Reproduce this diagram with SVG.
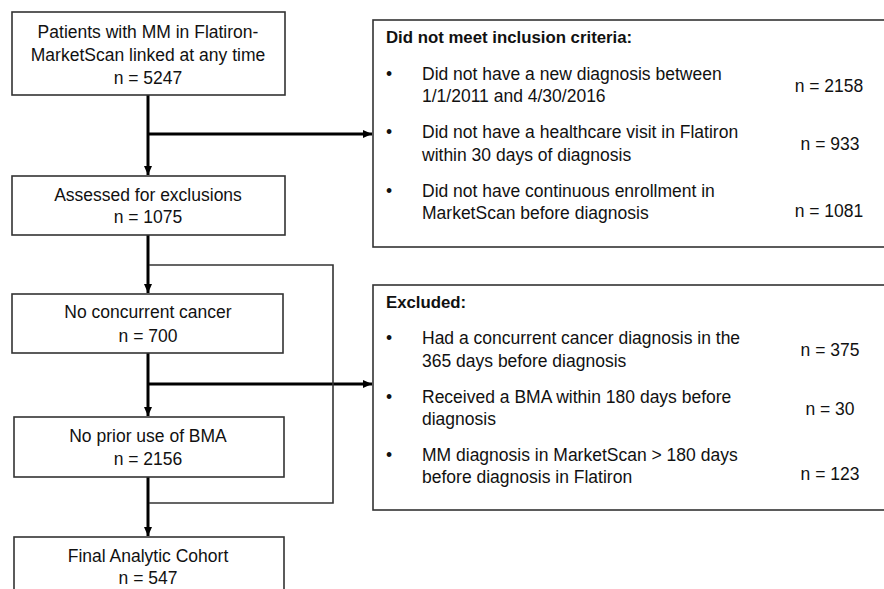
<svg xmlns="http://www.w3.org/2000/svg" width="884" height="589" viewBox="0 0 884 589">
<defs>
<style>
.box{fill:#fff;stroke:#333;stroke-width:1.6}
.t{font-family:"Liberation Sans",Arial,sans-serif;font-size:17.5px;fill:#111}
.c{text-anchor:middle}
.b{font-weight:bold;font-size:16.8px}
.thick{fill:none;stroke:#000;stroke-width:3}
.thin{fill:none;stroke:#333;stroke-width:1.6}
</style>
<marker id="ah" markerUnits="userSpaceOnUse" markerWidth="10" markerHeight="10" refX="9" refY="5" orient="auto">
<path d="M0,1 L9,5 L0,9 Z" fill="#000"/>
</marker>
</defs>
<rect width="884" height="589" fill="#fff"/>
<g id="connectors">
<line class="thick" x1="148" y1="95" x2="148" y2="175" marker-end="url(#ah)"/>
<line class="thick" x1="148" y1="134" x2="372" y2="134" marker-end="url(#ah)"/>
<line class="thick" x1="148" y1="235" x2="148" y2="293" marker-end="url(#ah)"/>
<line class="thick" x1="148" y1="353" x2="148" y2="416" marker-end="url(#ah)"/>
<line class="thick" x1="148" y1="384" x2="372" y2="384" marker-end="url(#ah)"/>
<line class="thick" x1="148" y1="477" x2="148" y2="536" marker-end="url(#ah)"/>
<polyline class="thin" points="149,265 333,265 333,503 149,503"/>
</g>
<g id="n1">
<rect class="box" x="12" y="12" width="273" height="83"/>
<text class="t c" x="148" y="38">Patients with MM in Flatiron-</text>
<text class="t c" x="148" y="61">MarketScan linked at any time</text>
<text class="t c" x="148" y="84">n = 5247</text>
</g>
<g id="n2">
<rect class="box" x="12" y="176" width="273" height="59"/>
<text class="t c" x="148" y="201">Assessed for exclusions</text>
<text class="t c" x="148" y="223">n = 1075</text>
</g>
<g id="n3">
<rect class="box" x="12" y="294" width="271" height="59"/>
<text class="t c" x="148" y="318">No concurrent cancer</text>
<text class="t c" x="148" y="342">n = 700</text>
</g>
<g id="n4">
<rect class="box" x="14" y="417" width="270" height="60"/>
<text class="t c" x="148" y="442">No prior use of BMA</text>
<text class="t c" x="148" y="465">n = 2156</text>
</g>
<g id="n5">
<rect class="box" x="14" y="537" width="270" height="70"/>
<text class="t c" x="148" y="562">Final Analytic Cohort</text>
<text class="t c" x="148" y="584">n = 547</text>
</g>
<g id="ex1">
<rect class="box" x="373" y="20" width="520" height="227"/>
<text class="t b" x="386" y="43">Did not meet inclusion criteria:</text>
<text class="t" x="386" y="80">•</text>
<text class="t" x="422" y="80">Did not have a new diagnosis between</text>
<text class="t" x="422" y="102">1/1/2011 and 4/30/2016</text>
<text class="t c" x="829" y="92">n = 2158</text>
<text class="t" x="386" y="138">•</text>
<text class="t" x="422" y="138">Did not have a healthcare visit in Flatiron</text>
<text class="t" x="422" y="161">within 30 days of diagnosis</text>
<text class="t c" x="830" y="150">n = 933</text>
<text class="t" x="386" y="197">•</text>
<text class="t" x="422" y="197">Did not have continuous enrollment in</text>
<text class="t" x="422" y="219">MarketScan before diagnosis</text>
<text class="t c" x="829" y="217">n = 1081</text>
</g>
<g id="ex2">
<rect class="box" x="373" y="285" width="520" height="225"/>
<text class="t b" x="386" y="308">Excluded:</text>
<text class="t" x="386" y="344">•</text>
<text class="t" x="422" y="344">Had a concurrent cancer diagnosis in the</text>
<text class="t" x="422" y="367">365 days before diagnosis</text>
<text class="t c" x="830" y="356">n = 375</text>
<text class="t" x="386" y="403">•</text>
<text class="t" x="422" y="403">Received a BMA within 180 days before</text>
<text class="t" x="422" y="425">diagnosis</text>
<text class="t c" x="830" y="415">n = 30</text>
<text class="t" x="386" y="461">•</text>
<text class="t" x="422" y="461">MM diagnosis in MarketScan &gt; 180 days</text>
<text class="t" x="422" y="483">before diagnosis in Flatiron</text>
<text class="t c" x="830" y="480">n = 123</text>
</g>
</svg>
